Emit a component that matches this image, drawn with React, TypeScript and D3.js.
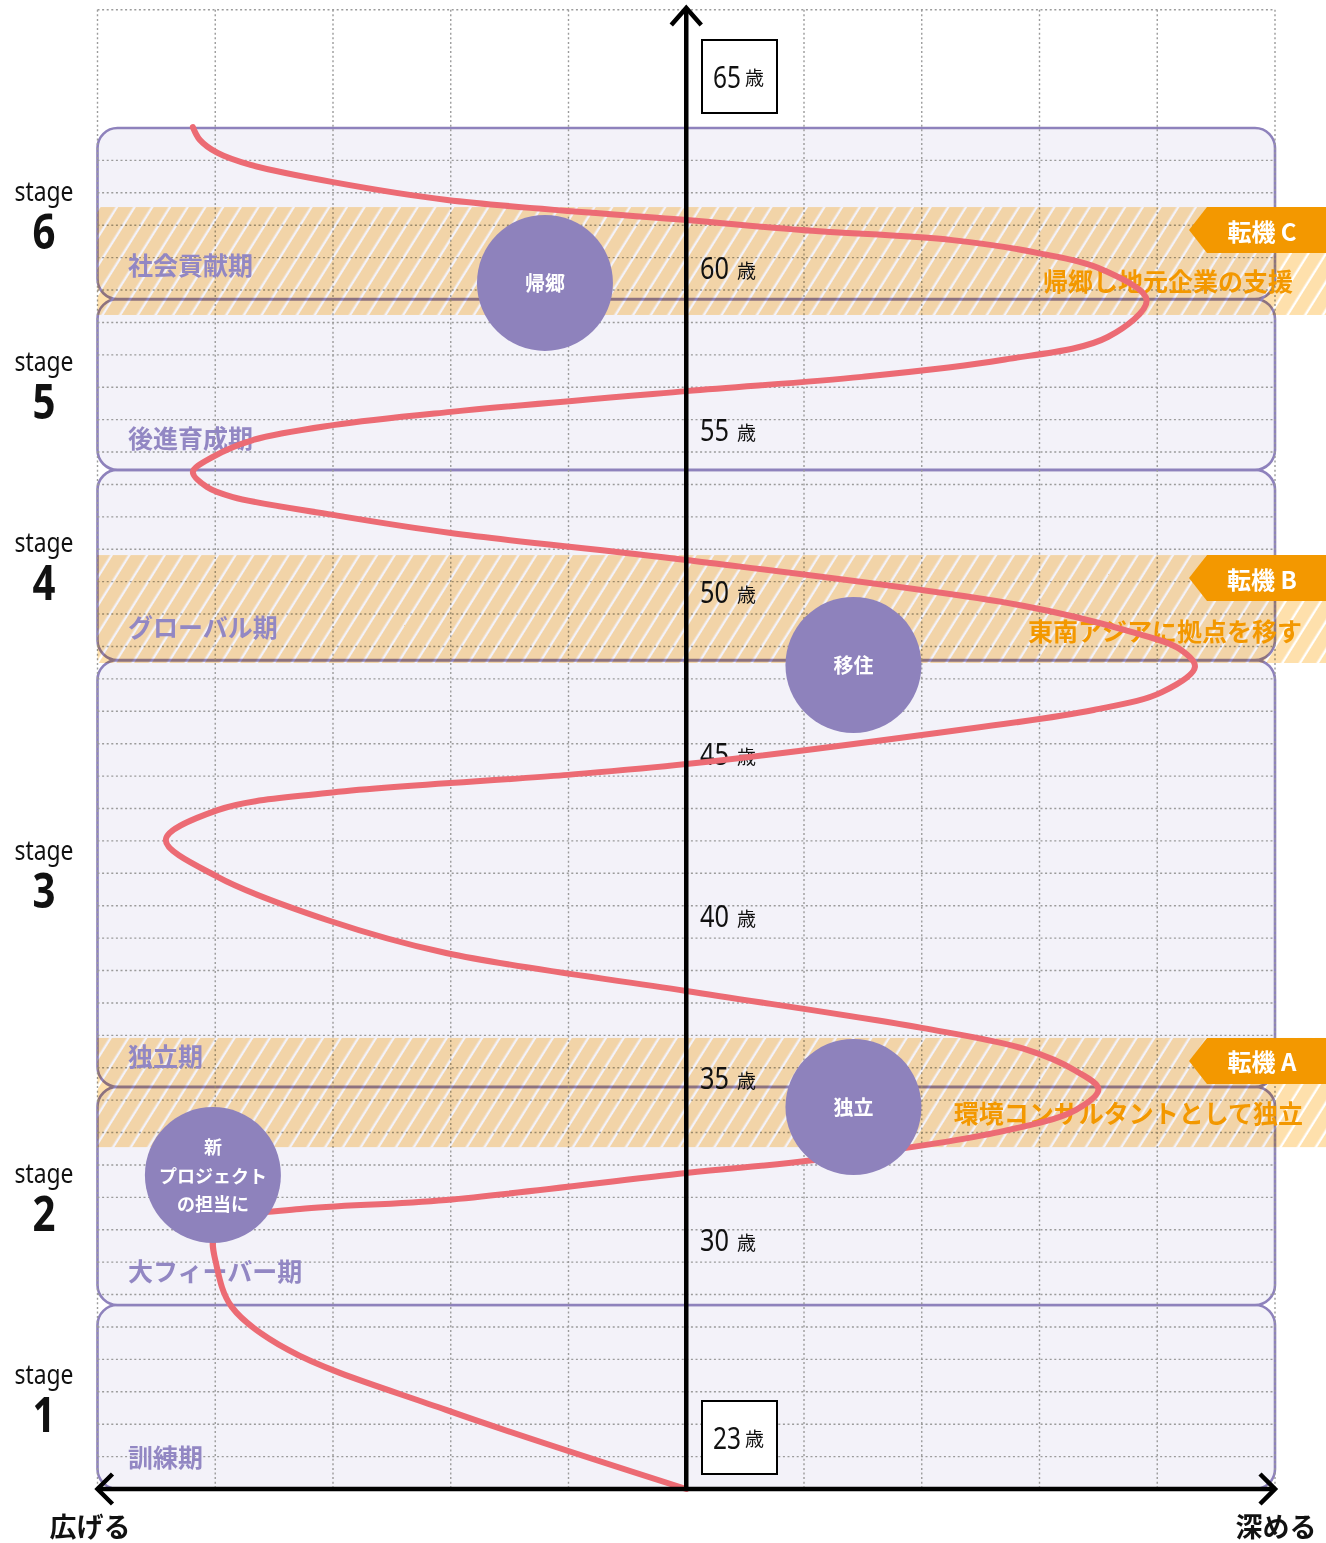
import React from 'react';
import * as d3 from 'd3';

const W = 1326;
const H = 1543;

// ---- data ----
// curve: age (vertical) and position on 広げる(-) ↔ 深める(+) axis
const curveAge = [
  23.0, 25.44, 27.29, 28.62, 29.91, 30.84, 31.36, 31.64, 31.92, 32.75,
  33.15, 33.99, 34.7, 35.34, 35.9, 36.58, 37.23, 38.37,
  39.54, 40.56, 41.89, 43.03, 43.95, 44.48, 45.03, 45.37,
  46.27, 47.04, 47.59, 48.37, 48.92, 49.48, 50.25, 51.67,
  52.5, 53.06, 53.61, 53.92, 54.38, 54.85, 55.37, 55.83, 56.24, 56.88,
  57.32, 57.84, 58.55, 59.69, 60.62, 61.14, 61.54, 61.85, 62.16,
  62.78, 63.33, 63.86, 64.23, 64.63, 65.03,
];
const curveValue = [
  0, -2.04, -3.38, -3.86, -3.99, -4.01, -3.83, -3.28, -2.04, 0,
  1.09, 2.62, 3.31, 3.5, 3.31, 2.87, 2.0, 0,
  -2.04, -3.05, -3.98, -4.42, -3.98, -3.05, -1.04, 0,
  2.0, 3.46, 4.04, 4.32, 4.19, 3.75, 2.87, 0,
  -2.0, -3.0, -3.85, -4.07, -4.19, -4.02, -3.68, -3.0, -2.0, 0,
  1.49, 2.68, 3.58, 3.91, 3.54, 2.99, 2.26, 0.98, 0,
  -2.03, -3.0, -3.7, -3.98, -4.13, -4.19,
];

const stageNames = ['1', '2', '3', '4', '5', '6'];
const stageFrom = [23, 28.68, 35.41, 48.58, 54.45, 59.72];
const stageTo = [28.68, 35.41, 48.58, 54.45, 59.72, 65];
const periodNames = ['訓練期', '大フィーバー期', '独立期', 'グローバル期', '後進育成期', '社会貢献期'];
const periodAge = [24.02, 29.76, 36.39, 49.63, 55.46, 60.8];

const turnNames = ['転機 A', '転機 B', '転機 C'];
const turnFrom = [33.55, 48.49, 59.23];
const turnTo = [36.92, 51.82, 62.56];
const turnTexts = ['環境コンサルタントとして独立', '東南アジアに拠点を移す', '帰郷し地元企業の支援'];
const turnTextAge = [34.63, 49.51, 60.31];

const eventLines = [['新', 'プロジェクト', 'の担当に'], ['独立'], ['移住'], ['帰郷']];
const eventAge = [32.69, 34.79, 48.43, 60.22];
const eventValue = [-4.02, 1.42, 1.42, -1.2];

const ageTicks = [30, 35, 40, 45, 50, 55, 60];
const boxedAges = [23, 65];
const gridValues = [-5, -4, -3, -2, -1, 0, 1, 2, 3, 4, 5];
const gridAges = d3.range(24, 65);
const gridTopAge = 68.65;

const LATIN = "'Noto Sans', 'DejaVu Sans', sans-serif";
const JP = "'Noto Sans CJK JP', 'Noto Sans', sans-serif";

const PURPLE = '#8e82bc';
const PANEL = '#f3f2f9';
const CURVE = '#ec6b74';
const ORANGE = '#f39800';

export default function App() {
  const x = d3.scaleLinear().domain([-5, 5]).range([97.5, 1275]);
  const y = d3.scaleLinear().domain([23, 65]).range([1489, 128]);
  const left = x(-5);
  const right = x(5);
  const axisX = x(0);
  const axisY = y(23);

  const pts = curveAge.map((a, i) => [x(curveValue[i]), y(a)] as [number, number]);
  const path = d3.line().curve(d3.curveCatmullRom.alpha(0.5))(pts) || '';

  const tagH = 46;
  const descRight = [1303, 1302, 1293];

  return (
    <svg width={W} height={H} style={{ position: 'absolute', left: 0, top: 0, background: '#fff' }}>
      <defs>
        <pattern id="hatch" patternUnits="userSpaceOnUse" width="15" height="15" patternTransform="rotate(32)">
          <rect x="0" y="0" width="12.6" height="15" fill="#fee0ac" />
        </pattern>
      </defs>
      <rect x={0} y={0} width={W} height={H} fill="#fff" />

      {/* stage panels */}
      {stageNames.map((s, i) => (
        <rect key={'p' + s} x={left} y={y(stageTo[i])} width={right - left} height={y(stageFrom[i]) - y(stageTo[i])}
          rx={20} ry={20} fill={PANEL} stroke={PURPLE} strokeWidth={2.6} />
      ))}

      {/* grid */}
      <g stroke="#9b9b9b" strokeWidth={1.4} strokeDasharray="2 2.6">
        {gridValues.map((v) => (
          <line key={'gv' + v} x1={x(v)} x2={x(v)} y1={y(gridTopAge)} y2={axisY} />
        ))}
        {gridAges.map((a) => (
          <line key={'ga' + a} x1={left} x2={right} y1={y(a)} y2={y(a)} />
        ))}
        <line x1={left} x2={right} y1={y(gridTopAge)} y2={y(gridTopAge)} />
      </g>

      {/* turning bands */}
      <g style={{ mixBlendMode: 'multiply' }}>
        {turnNames.map((t, i) => (
          <rect key={'b' + t} x={left} y={y(turnTo[i])} width={W - left} height={y(turnFrom[i]) - y(turnTo[i])} fill="url(#hatch)" />
        ))}
      </g>

      {/* stage labels */}
      {stageNames.map((s, i) => {
        const mid = (y(stageFrom[i]) + y(stageTo[i])) / 2;
        return (
          <g key={'sl' + s} textAnchor="middle" fill="#111">
            <text x={44} y={mid - 13} fontFamily={LATIN} fontSize={28} textLength={59} lengthAdjust="spacingAndGlyphs">stage</text>
            <text x={44} y={mid + 35} fontFamily={LATIN} fontSize={48} fontWeight="bold" textLength={23} lengthAdjust="spacingAndGlyphs">{s}</text>
          </g>
        );
      })}

      {/* period labels */}
      {periodNames.map((p, i) => (
        <text key={'pl' + p} x={128} y={y(periodAge[i])} dominantBaseline="central" fontFamily={JP}
          fontSize={25} fontWeight="bold" fill="#9287c3">{p}</text>
      ))}

      {/* turning descriptions */}
      {turnTexts.map((t, i) => (
        <text key={'td' + i} x={descRight[i]} y={y(turnTextAge[i])} dominantBaseline="central" textAnchor="end"
          fontFamily={JP} fontSize={25} fontWeight="bold" fill={ORANGE}>{t}</text>
      ))}

      {/* age labels */}
      {ageTicks.map((a) => (
        <g key={'at' + a} fill="#111">
          <text x={700} y={y(a) - 11} fontFamily={LATIN} fontSize={30} textLength={29} lengthAdjust="spacingAndGlyphs">{a}</text>
          <text x={737} y={y(a) - 12} fontFamily={JP} fontSize={19}>歳</text>
        </g>
      ))}

      {/* curve */}
      <path d={path} fill="none" stroke={CURVE} strokeWidth={6} strokeLinecap="round" strokeLinejoin="round" />

      {/* events */}
      {eventLines.map((lines, i) => {
        const cx = x(eventValue[i]);
        const cy = y(eventAge[i]);
        const lh = 28.5;
        return (
          <g key={'ev' + i}>
            <circle cx={cx} cy={cy} r={68} fill={PURPLE} />
            {lines.map((l, j) => (
              <text key={j} x={cx} y={cy + (j - (lines.length - 1) / 2) * lh} textAnchor="middle" dominantBaseline="central"
                fontFamily={JP} fontSize={lines.length > 1 ? 18 : 20} fontWeight="bold" fill="#fff">{l}</text>
            ))}
          </g>
        );
      })}

      {/* axes */}
      <g stroke="#000" strokeWidth={4.5} fill="none" strokeLinecap="butt">
        <line x1={axisX} x2={axisX} y1={axisY} y2={8} />
        <polyline points={`${axisX - 15},${25} ${axisX},${8} ${axisX + 15},${25}`} strokeLinejoin="miter" />
        <line x1={left} x2={right} y1={axisY} y2={axisY} />
        <polyline points={`${left + 15},${axisY - 15} ${left},${axisY} ${left + 15},${axisY + 15}`} />
        <polyline points={`${right - 15},${axisY - 15} ${right},${axisY} ${right - 15},${axisY + 15}`} />
      </g>

      {/* boxed ages */}
      {boxedAges.map((a) => {
        const bottom = y(a) - 15;
        const cy = bottom - 36.5;
        return (
          <g key={'bx' + a} fill="#111">
            <rect x={702} y={bottom - 73} width={75} height={73} fill="#fff" stroke="#000" strokeWidth={2} />
            <text x={713} y={cy + 11} fontFamily={LATIN} fontSize={30} textLength={28} lengthAdjust="spacingAndGlyphs">{a}</text>
            <text x={745} y={cy + 8} fontFamily={JP} fontSize={19}>歳</text>
          </g>
        );
      })}

      {/* turning tags */}
      {turnNames.map((t, i) => {
        const top = y(turnTo[i]);
        return (
          <g key={'tg' + t}>
            <path d={`M1189,${top + tagH / 2} L1207,${top} L${W},${top} L${W},${top + tagH} L1207,${top + tagH} Z`} fill={ORANGE} />
            <text x={1262} y={top + tagH / 2} textAnchor="middle" dominantBaseline="central" fontFamily={JP}
              fontSize={24} fontWeight="bold" fill="#fff">{t}</text>
          </g>
        );
      })}

      {/* axis titles */}
      <text x={90} y={1525} textAnchor="middle" dominantBaseline="central" fontFamily={JP} fontSize={27} fontWeight="bold" fill="#111">広げる</text>
      <text x={1276} y={1525} textAnchor="middle" dominantBaseline="central" fontFamily={JP} fontSize={27} fontWeight="bold" fill="#111">深める</text>
    </svg>
  );
}
